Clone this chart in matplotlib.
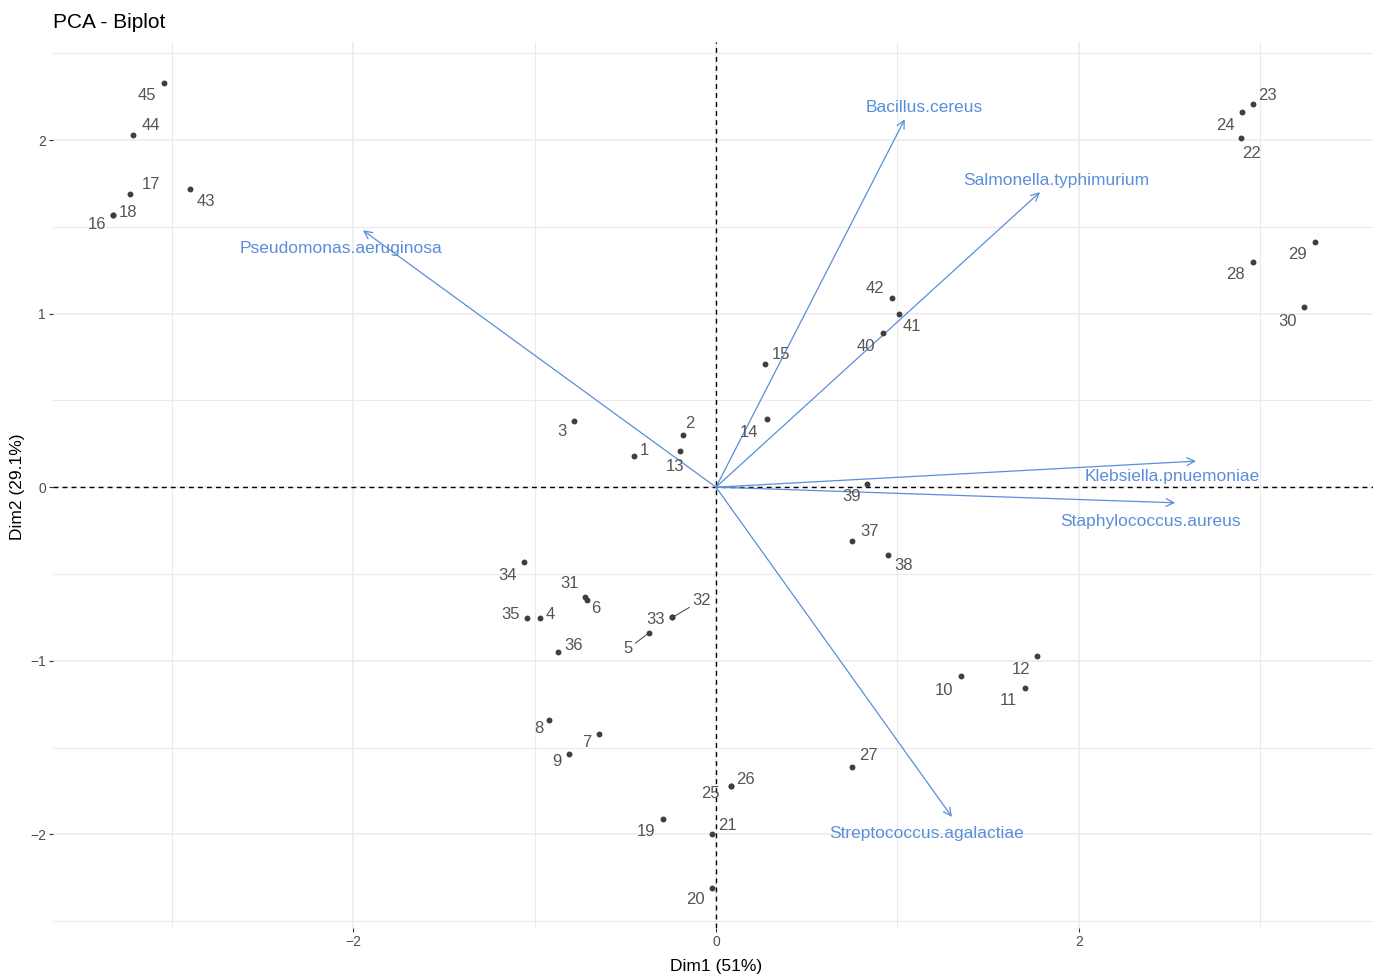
import matplotlib
matplotlib.use("Agg")
import matplotlib.pyplot as plt
import numpy as np

plt.rcParams['font.family'] = ['Liberation Sans', 'DejaVu Sans']

# individuals (PCA scores)
ids = [str(i) for i in range(1, 46)]
dim1 = [-0.45, -0.18, -0.78, -0.97, -0.37, -0.71, -0.645, -0.92, -0.81, 1.35,
        1.70, 1.77, -0.20, 0.28, 0.27, -3.32, -3.23, -3.32, -0.29, -0.02,
        -0.02, 2.89, 2.96, 2.90, 0.08, 0.08, 0.75, 2.96, 3.30, 3.24,
        -0.72, -0.24, -0.24, -1.06, -1.04, -0.87, 0.75, 0.95, 0.83, 0.92,
        1.01, 0.97, -2.90, -3.21, -3.04]
dim2 = [0.18, 0.30, 0.38, -0.755, -0.84, -0.65, -1.42, -1.34, -1.54, -1.09,
        -1.16, -0.97, 0.21, 0.39, 0.71, 1.57, 1.69, 1.57, -1.91, -2.31,
        -2.00, 2.01, 2.21, 2.16, -1.72, -1.72, -1.61, 1.30, 1.41, 1.04,
        -0.63, -0.75, -0.75, -0.43, -0.755, -0.95, -0.31, -0.39, 0.02, 0.89,
        1.00, 1.09, 1.72, 2.03, 2.33]

# variables (loadings, scaled)
var_names = ['Bacillus.cereus', 'Salmonella.typhimurium', 'Pseudomonas.aeruginosa',
             'Klebsiella.pnuemoniae', 'Staphylococcus.aureus', 'Streptococcus.agalactiae']
var_x = [1.04, 1.785, -1.945, 2.645, 2.53, 1.30]
var_y = [2.12, 1.70, 1.48, 0.15, -0.09, -1.90]

# label offsets in pixels (x right, y up)
lab_off = {
    '1': (10, 5), '2': (6, 12), '3': (-12, -10), '4': (10, 4), '5': (-21, -16),
    '6': (9, -9), '7': (-12, -9), '8': (-10, -9), '9': (-12, -7), '10': (-17, -14),
    '11': (-16, -12), '12': (-16, -14), '13': (-5, -16), '14': (-18, -13), '15': (16, 9),
    '16': (-16, -10), '17': (21, 9), '18': (15, 2), '19': (-17, -13), '20': (-17, -11),
    '21': (15, 9), '22': (11, -15), '23': (14, 8), '24': (-17, -13), '25': (-20, -8),
    '26': (15, 6), '27': (16, 11), '28': (-18, -13), '29': (-17, -12), '30': (-16, -15),
    '31': (-16, 13), '32': (29, 17), '33': (-17, -2), '34': (-16, -14), '35': (-17, 4),
    '36': (15, 7), '37': (17, 9), '38': (15, -11), '39': (-15, -13), '40': (-17, -14),
    '41': (13, -13), '42': (-17, 9), '43': (16, -13), '44': (17, 9), '45': (-17, -13),
}
seg_ids = ['5', '32']
var_off = [(20, 12), (16, 12), (-22, -18), (-24, -15), (-25, -19), (-25, -17)]

blue = '#5b8ddb'
pt_col = '#3f3f3f'
txt_col = '#555555'

fig = plt.figure(figsize=(13.79, 9.77), dpi=100)
ax = fig.add_axes([53 / 1379, 49 / 977, 1320 / 1379, 886 / 977])
ax.set_xlim(-3.653, 3.62)
ax.set_ylim(-2.54, 2.565)

for s in ax.spines.values():
    s.set_visible(False)

ax.set_xticks([-2, 0, 2])
ax.set_yticks([-2, -1, 0, 1, 2])
ax.set_xticks([-3, -1, 1, 3], minor=True)
ax.set_yticks([-2.5, -1.5, -0.5, 0.5, 1.5, 2.5], minor=True)
ax.grid(True, which='major', color='#ebebeb', lw=1.1)
ax.grid(True, which='minor', color='#ebebeb', lw=0.8)
ax.tick_params(which='major', length=3, width=0.8, color='#333333',
               labelsize=10, labelcolor='#4d4d4d', pad=2)
ax.tick_params(which='minor', length=0)
ax.set_axisbelow(True)

ax.axhline(0, color='black', ls=(0, (3.5, 3)), lw=1.0, zorder=2)
ax.axvline(0, color='black', ls=(0, (3.5, 3)), lw=1.0, zorder=2)

ax.scatter(dim1, dim2, s=18, color=pt_col, zorder=4, linewidths=0)

for i, lab in enumerate(ids):
    dx, dy = lab_off[lab]
    props = None
    if lab in seg_ids:
        props = dict(arrowstyle='-', color=pt_col, lw=0.7, shrinkA=0, shrinkB=0)
    ax.annotate(lab, (dim1[i], dim2[i]), xytext=(dx, dy), textcoords='offset pixels',
                ha='center', va='center', fontsize=12, color=txt_col,
                arrowprops=props, zorder=5)

for i, name in enumerate(var_names):
    ax.annotate('', xy=(var_x[i], var_y[i]), xytext=(0, 0),
                arrowprops=dict(arrowstyle='->', color=blue, lw=0.9,
                                mutation_scale=14, shrinkA=0, shrinkB=0),
                zorder=3)
    dx, dy = var_off[i]
    ax.annotate(name, (var_x[i], var_y[i]), xytext=(dx, dy), textcoords='offset pixels',
                ha='center', va='center', fontsize=12.5, color=blue, zorder=5)

fig.text(53 / 1379, 1 - 22 / 977, 'PCA - Biplot', fontsize=15, ha='left', va='center')
fig.text(716 / 1379, 1 - 966 / 977, 'Dim1 (51%)', fontsize=12.5, ha='center', va='center')
fig.text(18 / 1379, 1 - 487 / 977, 'Dim2 (29.1%)', fontsize=12.5, ha='center',
         va='center', rotation=90)

fig.savefig('out.png', dpi=100)
